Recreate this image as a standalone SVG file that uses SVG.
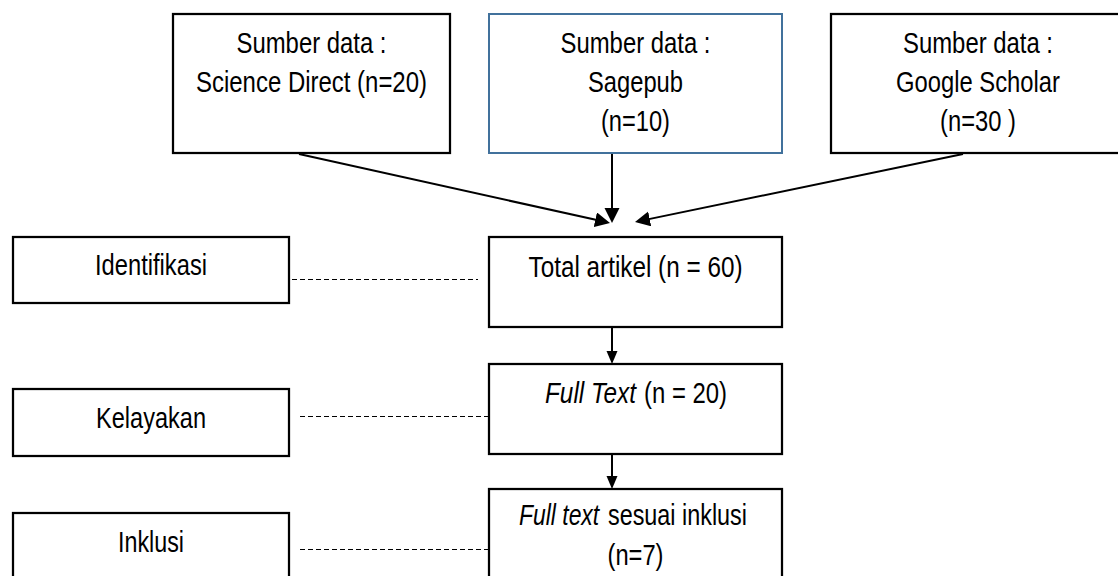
<svg xmlns="http://www.w3.org/2000/svg" width="1118" height="576" viewBox="0 0 1118 576">
<style>
.box{fill:#fff;stroke:#000;stroke-width:2.25}
.blue{fill:#fff;stroke:#41719C;stroke-width:2}
.t{font-family:"Liberation Sans Narrow","Liberation Sans",Arial,sans-serif;font-size:29px;fill:#000;text-anchor:middle}
.s{text-anchor:start}
.i{font-style:italic}
.arr{stroke:#000;stroke-width:2;fill:none;marker-end:url(#ah)}
.arr2{stroke:#000;stroke-width:2;fill:none;marker-end:url(#ah2)}
.dash{stroke:#000;stroke-width:1.1;stroke-dasharray:5 3;fill:none}
</style>
<defs>
<marker id="ah" markerUnits="userSpaceOnUse" markerWidth="16" markerHeight="16" refX="12" refY="7.5" orient="auto">
<path d="M0,0 L15,7.5 L0,15 z" fill="#000"/>
</marker>
<marker id="ah2" markerUnits="userSpaceOnUse" markerWidth="14" markerHeight="12" refX="10" refY="5.5" orient="auto">
<path d="M0,0 L13,5.5 L0,11 z" fill="#000"/>
</marker>
</defs>
<rect width="1118" height="576" fill="#fff"/>
<g id="connectors">
<line class="arr" x1="299" y1="154" x2="607.07" y2="222.35"/>
<line class="arr" x1="612" y1="153" x2="612" y2="220"/>
<line class="arr" x1="963" y1="154" x2="637.94" y2="221.39"/>
<line class="arr2" x1="612" y1="327" x2="612" y2="361"/>
<line class="arr2" x1="612" y1="454" x2="612" y2="486"/>
<line class="dash" x1="292" y1="279.5" x2="478" y2="279.5"/>
<line class="dash" x1="300" y1="416.5" x2="489" y2="416.5"/>
<line class="dash" x1="300" y1="549.5" x2="489" y2="549.5"/>
</g>
<g id="science-direct">
<rect class="box" x="173" y="14" width="277" height="139"/>
<text class="t" x="311.5" y="53" textLength="150" lengthAdjust="spacingAndGlyphs">Sumber data :</text>
<text class="t" x="311.5" y="92" textLength="231" lengthAdjust="spacingAndGlyphs">Science Direct (n=20)</text>
</g>
<g id="sagepub">
<rect class="blue" x="489" y="14" width="293" height="139"/>
<text class="t" x="635.5" y="53" textLength="150" lengthAdjust="spacingAndGlyphs">Sumber data :</text>
<text class="t" x="635.5" y="92" textLength="95" lengthAdjust="spacingAndGlyphs">Sagepub</text>
<text class="t" x="635.5" y="131" textLength="69" lengthAdjust="spacingAndGlyphs">(n=10)</text>
</g>
<g id="google-scholar">
<rect class="box" x="831" y="14" width="294" height="139"/>
<text class="t" x="978" y="53" textLength="150" lengthAdjust="spacingAndGlyphs">Sumber data :</text>
<text class="t" x="978" y="92" textLength="164" lengthAdjust="spacingAndGlyphs">Google Scholar</text>
<text class="t" x="978" y="131" textLength="76" lengthAdjust="spacingAndGlyphs">(n=30 )</text>
</g>
<g id="total">
<rect class="box" x="489" y="237" width="293" height="90"/>
<text class="t" x="635.5" y="277" textLength="214" lengthAdjust="spacingAndGlyphs">Total artikel (n = 60)</text>
</g>
<g id="fulltext">
<rect class="box" x="489" y="364" width="293" height="90"/>
<text class="t s i" x="545" y="403" textLength="91" lengthAdjust="spacingAndGlyphs">Full Text</text>
<text class="t s" x="644" y="403" textLength="83" lengthAdjust="spacingAndGlyphs">(n = 20)</text>
</g>
<g id="inklusi-result">
<rect class="box" x="489" y="489" width="293" height="100"/>
<text class="t s i" transform="translate(519,525) scale(0.79,1)">Full text</text>
<text class="t s" transform="translate(608,525) scale(0.806,1)">sesuai inklusi</text>
<text class="t" x="635.5" y="565" textLength="56" lengthAdjust="spacingAndGlyphs">(n=7)</text>
</g>
<g id="identifikasi">
<rect class="box" x="13" y="237" width="276" height="66"/>
<text class="t" x="151" y="275" textLength="112" lengthAdjust="spacingAndGlyphs">Identifikasi</text>
</g>
<g id="kelayakan">
<rect class="box" x="13" y="389" width="276" height="67"/>
<text class="t" x="151" y="428" textLength="110" lengthAdjust="spacingAndGlyphs">Kelayakan</text>
</g>
<g id="inklusi">
<rect class="box" x="13" y="513" width="276" height="80"/>
<text class="t" x="151" y="552" textLength="66" lengthAdjust="spacingAndGlyphs">Inklusi</text>
</g>
</svg>
